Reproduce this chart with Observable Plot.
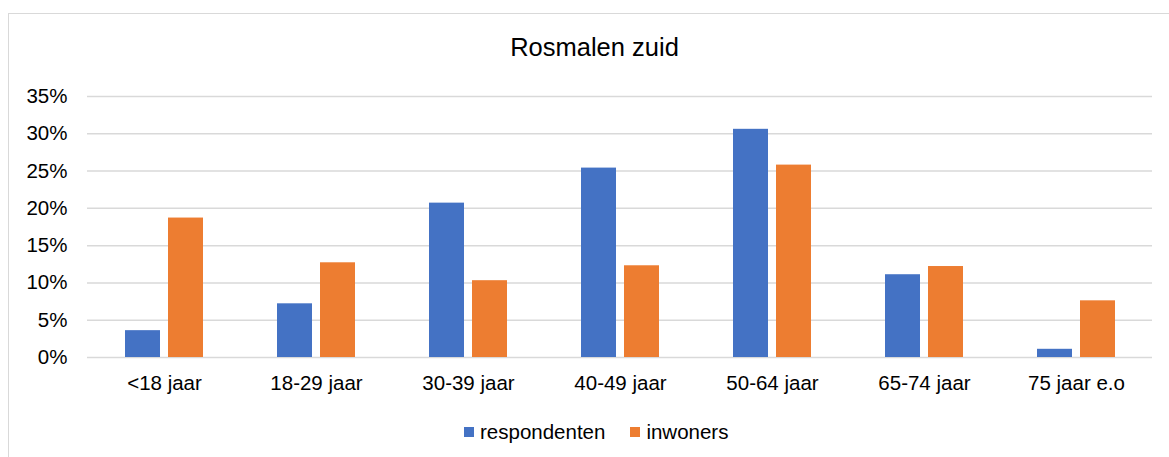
<!DOCTYPE html>
<html>
<head>
<meta charset="utf-8">
<script src="https://cdn.jsdelivr.net/npm/d3@7"></script>
<script src="https://cdn.jsdelivr.net/npm/@observablehq/plot@0.6"></script>
<style>
  html, body { margin: 0; padding: 0; background: #fff; }
  body { width: 1169px; height: 457px; overflow: hidden; position: relative; font-family: "Liberation Sans", Arial, sans-serif; color: #000; }
  #frame { position: absolute; left: 8px; top: 13px; width: 1300px; height: 600px; border-left: 1.5px solid #d9d9d9; border-top: 1.5px solid #d9d9d9; box-sizing: border-box; }
  #title { position: absolute; left: 8px; width: 1173px; top: 35px; text-align: center; font-size: 25.5px; line-height: 25.5px; }
  #chart { position: absolute; left: 0; top: 70px; }
  #legend { position: absolute; left: 464px; top: 422px; font-size: 20.5px; line-height: 20px; display: flex; align-items: center; }
  .sw { display: inline-block; width: 10px; height: 10px; margin-right: 6px; }
  .item { display: flex; align-items: center; }
</style>
</head>
<body>
<div id="frame"></div>
<div id="title">Rosmalen zuid</div>
<div id="chart"></div>
<div id="legend"></div>
<script>
const categories = ["<18 jaar", "18-29 jaar", "30-39 jaar", "40-49 jaar", "50-64 jaar", "65-74 jaar", "75 jaar e.o"];
const respondenten = [3.6, 7.2, 20.7, 25.4, 30.6, 11.1, 1.1];
const inwoners = [18.7, 12.7, 10.3, 12.3, 25.8, 12.2, 7.6];
const seriesNames = ["respondenten", "inwoners"];
const seriesColors = ["#4472C4", "#ED7D31"];
const yTicks = [0, 5, 10, 15, 20, 25, 30, 35];

const respData = categories.map((c, i) => ({cat: c, v: respondenten[i]}));
const inwData = categories.map((c, i) => ({cat: c, v: inwoners[i]}));

const chart = Plot.plot({
  width: 1169,
  height: 340,
  marginLeft: 87,
  marginRight: 17,
  marginTop: 26,
  marginBottom: 53,
  style: {fontSize: "20.5px", fontFamily: "'Liberation Sans', Arial, sans-serif", color: "#000", background: "transparent"},
  x: {domain: categories, padding: 0, label: null, tickSize: 0, tickPadding: 18},
  y: {domain: [0, 35], ticks: yTicks, tickFormat: d => d + "%", label: null, tickSize: 0, tickPadding: 20},
  marks: [
    Plot.ruleY(yTicks, {stroke: "#d9d9d9", strokeWidth: 1.5}),
    Plot.barY(respData, {x: "cat", y: "v", fill: seriesColors[0], insetLeft: 37, insetRight: 80}),
    Plot.barY(inwData, {x: "cat", y: "v", fill: seriesColors[1], insetLeft: 80, insetRight: 37})
  ]
});
document.getElementById("chart").appendChild(chart);

const legend = document.getElementById("legend");
seriesNames.forEach((name, i) => {
  const item = document.createElement("div");
  item.className = "item";
  if (i > 0) item.style.marginLeft = "25px";
  const sw = document.createElement("span");
  sw.className = "sw";
  sw.style.background = seriesColors[i];
  item.appendChild(sw);
  const t = document.createElement("span");
  t.textContent = name;
  item.appendChild(t);
  legend.appendChild(item);
});
</script>
</body>
</html>
